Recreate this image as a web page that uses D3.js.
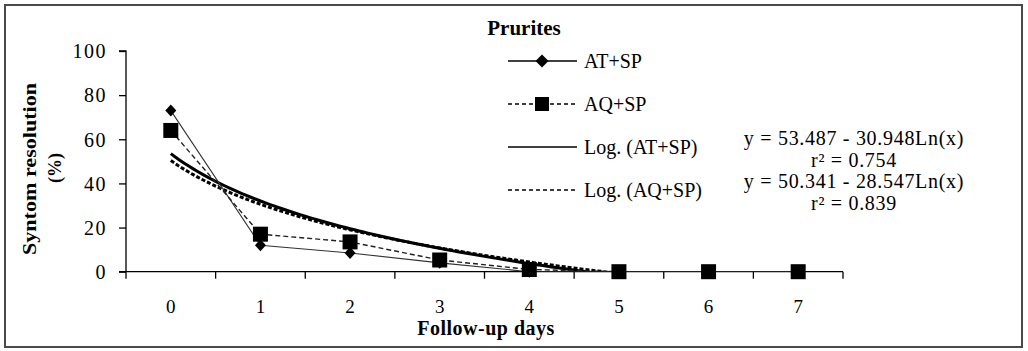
<!DOCTYPE html>
<html>
<head>
<meta charset="utf-8">
<script src="https://cdn.jsdelivr.net/npm/d3@7/dist/d3.min.js"></script>
<style>
  html, body { margin: 0; padding: 0; background: #fff; }
  svg text { font-family: "Liberation Serif", "Times New Roman", Times, serif; fill: #000; }
</style>
</head>
<body>
<svg id="chart" width="1028" height="351"></svg>
<script>
// Follow-up days and symptom resolution (%) for each treatment group
const days = ["0", "1", "2", "3", "4", "5", "6", "7"];
const atSp = [73, 12, 8.5, 4, 0, 0, 0, 0];
const aqSp = [64, 17, 13.5, 5.3, 1, 0, 0, 0];
const yTicks = [0, 20, 40, 60, 80, 100];

// Logarithmic trendlines y = a - b*ln(x), x = 1..n (category index)
const fitAt = { a: 53.487, b: 30.948, r2: 0.754 };
const fitAq = { a: 50.341, b: 28.547, r2: 0.839 };

const svg = d3.select("#chart");
const W = 1028, H = 351;

// outer frame
svg.append("rect").attr("x", 5).attr("y", 5).attr("width", W - 11).attr("height", H - 9)
  .attr("fill", "#fff").attr("stroke", "#4a4a4a").attr("stroke-width", 2);

const plotL = 126, plotR = 843, plotT = 51, plotB = 271.7;

const x = d3.scaleBand().domain(days).range([plotL, plotR]);
const cx = d => x(d) + x.bandwidth() / 2;
// continuous mapping of category index (1-based) for trendlines
const xLin = d3.scaleLinear().domain([1, days.length]).range([cx(days[0]), cx(days[days.length - 1])]);
const y = d3.scaleLinear().domain([0, 100]).range([plotB, plotT]);

svg.append("defs").append("clipPath").attr("id", "plotClip")
  .append("rect").attr("x", plotL).attr("y", plotT - 2).attr("width", plotR - plotL).attr("height", plotB - plotT + 2);

// y axis
const yAxis = svg.append("g").attr("transform", `translate(${plotL},0)`)
  .call(d3.axisLeft(y).tickValues(yTicks).tickSize(7).tickPadding(12));
yAxis.select(".domain").attr("stroke", "#000").attr("stroke-width", 1.3).attr("d", `M-7,${plotT}H0V${plotB}`);
yAxis.selectAll(".tick line").attr("stroke", "#000").attr("stroke-width", 1.3);
yAxis.selectAll(".tick text").attr("font-size", 20).attr("letter-spacing", 1.5).attr("dy", "0.34em");

// x axis with ticks between categories
const xAxisG = svg.append("g").attr("transform", `translate(0,${plotB})`);
xAxisG.append("line").attr("x1", plotL - 7).attr("x2", plotR).attr("y1", 0).attr("y2", 0)
  .attr("stroke", "#000").attr("stroke-width", 1.3);
const boundaries = days.map(d => x(d)).concat([plotR]);
xAxisG.selectAll("line.tk").data(boundaries).join("line").attr("class", "tk")
  .attr("x1", d => d).attr("x2", d => d).attr("y1", 0).attr("y2", 7)
  .attr("stroke", "#000").attr("stroke-width", 1.3);
xAxisG.selectAll("text").data(days).join("text")
  .attr("x", d => cx(d)).attr("y", 41.5).attr("text-anchor", "middle")
  .attr("font-size", 19).text(d => d);

// axis titles
svg.append("text").attr("x", 486).attr("y", 335).attr("text-anchor", "middle")
  .attr("font-size", 20).attr("font-weight", "bold").attr("letter-spacing", 0.5).text("Follow-up days");
svg.append("text").attr("transform", "translate(36,169) rotate(-90)").attr("text-anchor", "middle")
  .attr("font-size", 18).attr("font-weight", "bold").attr("textLength", 172)
  .attr("lengthAdjust", "spacingAndGlyphs").text("Syntom resolution");
svg.append("text").attr("transform", "translate(61,168) rotate(-90)").attr("text-anchor", "middle")
  .attr("font-size", 18).attr("font-weight", "bold").text("(%)");

// trendlines
const plot = svg.append("g").attr("clip-path", "url(#plotClip)");
const trendPts = f => d3.range(1, days.length + 0.001, 0.05).map(t => [xLin(t), y(f.a - f.b * Math.log(t))]);
const lineGen = d3.line();
plot.append("path").attr("d", lineGen(trendPts(fitAq)))
  .attr("fill", "none").attr("stroke", "#000").attr("stroke-width", 3).attr("stroke-dasharray", "4,2");
plot.append("path").attr("d", lineGen(trendPts(fitAt)))
  .attr("fill", "none").attr("stroke", "#000").attr("stroke-width", 3);

// data series lines
const serLine = d3.line().x((d, i) => cx(days[i])).y(d => y(d));
plot.append("path").attr("d", serLine(atSp)).attr("fill", "none")
  .attr("stroke", "#333").attr("stroke-width", 1.1);
plot.append("path").attr("d", serLine(aqSp)).attr("fill", "none")
  .attr("stroke", "#222").attr("stroke-width", 1.4).attr("stroke-dasharray", "5,3");

// markers
const diamondPath = (hw, hh) => `M0,${-hh}L${hw},0L0,${hh}L${-hw},0Z`;
svg.append("g").selectAll("path").data(atSp).join("path")
  .attr("d", diamondPath(5.5, 6)).attr("transform", (d, i) => `translate(${cx(days[i])},${y(d)})`).attr("fill", "#000");
svg.append("g").selectAll("rect").data(aqSp).join("rect")
  .attr("x", (d, i) => cx(days[i]) - 7.5).attr("y", d => y(d) - 7.5)
  .attr("width", 15).attr("height", 15).attr("fill", "#000");

// legend
svg.append("text").attr("x", 524).attr("y", 35).attr("text-anchor", "middle")
  .attr("font-size", 21).attr("font-weight", "bold").text("Prurites");
const legendItems = [
  { label: "AT+SP", dash: null, marker: "diamond" },
  { label: "AQ+SP", dash: "4,3", marker: "square" },
  { label: "Log. (AT+SP)", dash: null, marker: null },
  { label: "Log. (AQ+SP)", dash: "4,3", marker: null }
];
const lg = svg.append("g");
legendItems.forEach((it, i) => {
  const yy = 61 + i * 43;
  const l = lg.append("line").attr("x1", 508).attr("x2", 577).attr("y1", yy).attr("y2", yy)
    .attr("stroke", "#000").attr("stroke-width", 1.3);
  if (it.dash) l.attr("stroke-dasharray", it.dash);
  if (it.marker === "diamond") {
    lg.append("path").attr("d", diamondPath(6.5, 6.5))
      .attr("transform", `translate(542,${yy})`).attr("fill", "#000");
  } else if (it.marker === "square") {
    lg.append("rect").attr("x", 535).attr("y", yy - 7).attr("width", 14).attr("height", 14).attr("fill", "#000");
  }
  lg.append("text").attr("x", 584).attr("y", yy + 7).attr("font-size", 20).text(it.label);
});

// trendline equations
const fmt = d3.format(".3f");
const eqLines = [
  `y = ${fmt(fitAt.a)} - ${fmt(fitAt.b)}Ln(x)`, `r² = ${fmt(fitAt.r2)}`,
  `y = ${fmt(fitAq.a)} - ${fmt(fitAq.b)}Ln(x)`, `r² = ${fmt(fitAq.r2)}`
];
svg.append("g").selectAll("text").data(eqLines).join("text")
  .attr("x", 854).attr("y", (d, i) => 145 + i * 21.7).attr("text-anchor", "middle")
  .attr("font-size", 20).attr("letter-spacing", 0.7).text(d => d);
</script>
</body>
</html>
